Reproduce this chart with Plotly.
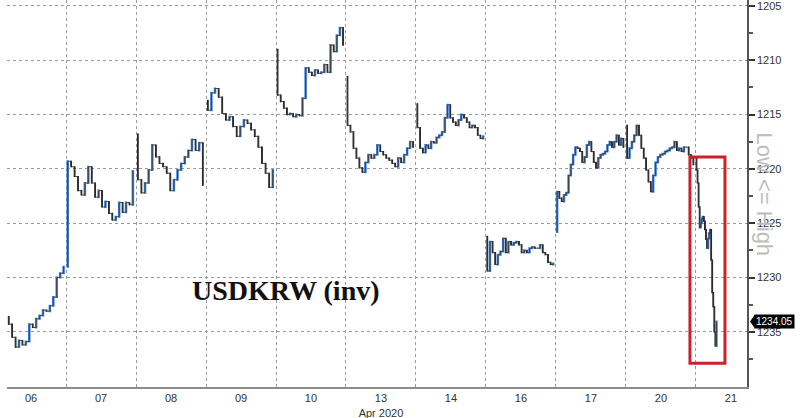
import plotly.graph_objects as go

# ---------------- data (USDKRW intraday) ----------------
day_labels = ["06", "07", "08", "09", "10", "13", "14", "16", "17", "20", "21"]
axis_month = "Apr 2020"
y_ticks = [1205, 1210, 1215, 1220, 1225, 1230, 1235]
last_price = 1234.05

apr06 = [1233.6, 1234.3, 1235.5, 1236.4, 1235.8, 1236.2, 1235.9, 1234.3, 1234.6,
         1233.8, 1233.5, 1233.0, 1233.1, 1232.6, 1231.8, 1230.0, 1229.6, 1229.0]
apr07 = [1229.0, 1219.3, 1219.8, 1220.7, 1222.0, 1222.4, 1221.3, 1219.8, 1221.3, 1222.6,
         1222.0, 1223.5, 1223.0, 1224.1, 1224.7, 1224.4, 1223.1, 1224.0, 1223.1,
         1223.3, 1220.2]
apr08 = [1216.8, 1221.0, 1222.2, 1221.3, 1220.1, 1217.8, 1218.9, 1219.5, 1219.8,
         1220.4, 1222.0, 1221.0, 1220.1, 1219.5, 1218.9, 1218.3, 1217.3, 1218.3,
         1217.6, 1221.5]
apr09 = [1213.7, 1214.6, 1213.0, 1212.6, 1213.4, 1214.9, 1215.5, 1215.2, 1216.1,
         1217.0, 1216.1, 1215.5, 1215.8, 1216.4, 1217.0, 1218.0, 1219.5, 1220.4,
         1221.7, 1220.1]
apr10 = [1209.0, 1213.2, 1213.8, 1214.4, 1215.0, 1214.9, 1215.2, 1215.0, 1215.1,
         1213.5, 1210.7, 1211.1, 1211.4, 1210.9, 1211.2, 1211.1, 1210.4, 1211.1,
         1208.6, 1209.2, 1207.7, 1207.0, 1208.6]
apr13 = [1211.5, 1216.0, 1216.6, 1218.1, 1219.0, 1219.9, 1220.3, 1219.4, 1218.7,
         1219.0, 1218.7, 1217.8, 1218.4, 1218.7, 1219.0, 1219.2, 1219.5, 1219.8,
         1219.0, 1219.4, 1218.7, 1218.1, 1217.5, 1218.0]
apr14 = [1214.0, 1216.2, 1218.1, 1218.5, 1217.8, 1218.1, 1217.5, 1217.6, 1217.1,
         1216.9, 1216.6, 1215.3, 1214.1, 1215.3, 1215.7, 1216.0, 1215.5, 1215.0,
         1215.3, 1215.7, 1216.2, 1216.0, 1216.2, 1216.9, 1217.2, 1217.0]
apr16 = [1226.2, 1229.4, 1226.7, 1227.7, 1228.8, 1227.9, 1227.6, 1226.4, 1227.7,
         1226.7, 1227.0, 1226.8, 1226.7, 1227.0, 1227.7, 1227.5, 1227.7, 1227.3,
         1227.2, 1227.3, 1227.3, 1227.0, 1227.7, 1227.9, 1228.6, 1228.8, 1228.7]
apr17 = [1225.8, 1222.1, 1222.7, 1223.0, 1222.4, 1222.2, 1220.6, 1219.6, 1218.7,
         1218.0, 1218.1, 1218.4, 1219.4, 1218.9, 1217.8, 1217.5, 1218.4, 1219.4,
         1219.9, 1219.0, 1218.7, 1218.6, 1218.4, 1217.8, 1217.5, 1218.0, 1217.5,
         1216.9, 1217.8, 1217.2, 1218.0]
apr20 = [1216.0, 1219.0, 1218.1, 1217.5, 1216.9, 1216.0, 1216.9, 1218.1, 1219.0,
         1220.1, 1221.2, 1222.1, 1220.6, 1219.4, 1218.9, 1218.7, 1218.6, 1218.4,
         1218.3, 1218.1, 1218.0, 1217.5, 1218.3, 1218.1, 1218.4, 1218.0, 1218.0,
         1218.7, 1219.0, 1219.6]
apr21 = [1219.0, 1220.1, 1221.3, 1223.5, 1225.4, 1225.0, 1224.6, 1224.4, 1224.8,
         1225.6, 1226.5, 1227.3, 1226.4, 1225.9, 1225.6, 1228.4, 1231.4, 1232.7,
         1235.0, 1236.3, last_price]

sessions = [apr06, apr07, apr08, apr09, apr10, apr13, apr14, apr16, apr17, apr20, apr21]

# ---------------- layout helpers ----------------
X_MIN, X_MAX = 0.157, 10.729
Y_BOTTOM, Y_TOP = 1240.08, 1204.45
spans = {0: (0.157, 0.99), 10: (0.0, 0.30)}
default_span = (0.0, 0.98)

UP_LINE = "#111111"
UP_FILL = "#8a8a8a"
DN_COL = "#3d7fd6"

fig = go.Figure()
for i, vals in enumerate(sessions):
    s, e = spans.get(i, default_span)
    n = len(vals) - 1
    step = (e - s) / n
    # connecting path through each bar's open/close (step look)
    lx, ly = [], []
    for k in range(n):
        xm = i + s + (k + 0.5) * step
        lx += [xm, xm]
        ly += [vals[k], vals[k + 1]]
    fig.add_trace(go.Scatter(x=lx, y=ly, mode="lines",
                             line=dict(color="#3a3a3a", width=0.9),
                             showlegend=False, hoverinfo="skip"))
    xs = [i + s + (k + 0.5) * step for k in range(n)]
    o = vals[:-1]
    c = vals[1:]
    hi = [max(a, b) for a, b in zip(o, c)]
    lo = [min(a, b) for a, b in zip(o, c)]
    fig.add_trace(go.Candlestick(
        x=xs, open=o, high=hi, low=lo, close=c,
        increasing=dict(line=dict(color=UP_LINE, width=1.2), fillcolor=UP_FILL),
        decreasing=dict(line=dict(color=DN_COL, width=2), fillcolor=DN_COL),
        whiskerwidth=0, showlegend=False, hoverinfo="skip",
    ))

tickvals_x = [i + 0.5 for i in range(len(day_labels))]
ticktext_x = list(day_labels)
ticktext_x[5] = day_labels[5] + "<br>" + axis_month

fig.update_layout(
    width=800, height=418,
    margin=dict(l=7, r=53, t=0, b=31, autoexpand=False),
    paper_bgcolor="white", plot_bgcolor="white",
    font=dict(family="Liberation Sans, Arial, sans-serif", size=11, color="#333333"),
    xaxis=dict(
        range=[X_MIN, X_MAX], rangeslider=dict(visible=False), automargin=False,
        tickmode="array", tickvals=tickvals_x, ticktext=ticktext_x,
        ticks="", showgrid=False, zeroline=False, ticklabeloverflow="allow",
        showline=True, linecolor="#8c8c8c", linewidth=2,
        minor=dict(tickmode="array", tickvals=list(range(1, 11)), showgrid=True,
                   gridcolor="#9a9a9a", griddash="dot", gridwidth=1, ticks=""),
        fixedrange=True,
    ),
    yaxis=dict(
        range=[Y_BOTTOM, Y_TOP], side="right", automargin=False,
        tickmode="array", tickvals=y_ticks, ticklabeloverflow="allow",
        ticks="outside", ticklen=6, tickwidth=2, tickcolor="#333333",
        showgrid=True, gridcolor="#9a9a9a", griddash="dot", gridwidth=1,
        zeroline=False, showline=True, linecolor="#555555", linewidth=1.5,
        minor=dict(tickmode="array", tickvals=[v + 2.5 for v in y_ticks],
                   ticks="outside", ticklen=4, tickcolor="#555555", showgrid=False),
        fixedrange=True,
    ),
    shapes=[
        dict(type="rect", xref="x", yref="y", x0=9.914, x1=10.414, y0=1218.9, y1=1237.9,
             line=dict(color="#c8232c", width=3), layer="above"),
        dict(type="path", xref="paper", yref="y", xsizemode="pixel", ysizemode="pixel",
             xanchor=1, yanchor=last_price, path="M 3 0 L 8 7 L 8 -7 Z",
             fillcolor="black", line=dict(width=0)),
    ],
    annotations=[
        dict(text="<b>USDKRW (inv)</b>", xref="x", yref="y", x=4.14, y=1231.15,
             showarrow=False, font=dict(family="Liberation Serif, Times New Roman, serif",
                                         size=28, color="#111111")),
        dict(text="Low <= High", xref="paper", yref="paper", x=1.0432, y=0.496,
             textangle=90, showarrow=False,
             font=dict(family="Liberation Sans, Arial, sans-serif", size=22, color="#bdbdbd")),
        dict(text=f"{last_price:.2f}", xref="paper", yref="y", x=1, xshift=7, y=last_price,
             xanchor="left", yanchor="middle", showarrow=False, bgcolor="black",
             borderpad=1, font=dict(family="Liberation Sans, Arial, sans-serif", size=10, color="white")),
    ],
)

fig.write_html("out.html", config={"displayModeBar": False},
               post_script="document.body.style.margin='0px';")
